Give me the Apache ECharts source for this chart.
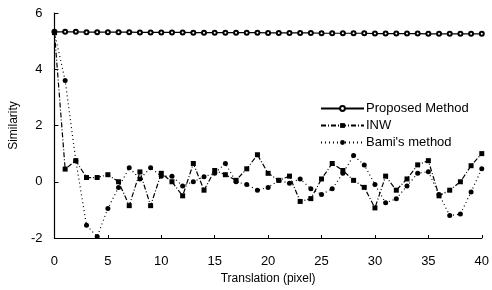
<!DOCTYPE html>
<html>
<head>
<meta charset="utf-8">
<script src="https://cdn.jsdelivr.net/npm/echarts@6/dist/echarts.min.js"></script>
<style>
  html, body { margin: 0; padding: 0; background: #fff; }
  #chart { width: 492px; height: 290px; }
</style>
</head>
<body>
<div id="chart"></div>
<script>
// translation in pixels, 0..40
const shifts = [0, 1, 2, 3, 4, 5, 6, 7, 8, 9, 10, 11, 12, 13, 14, 15, 16, 17, 18, 19, 20,
  21, 22, 23, 24, 25, 26, 27, 28, 29, 30, 31, 32, 33, 34, 35, 36, 37, 38, 39, 40]
const xTicks = [0, 5, 10, 15, 20, 25, 30, 35, 40]
const yTicks = [-2, 0, 2, 4, 6]

const proposed = [5.33, 5.33, 5.33, 5.32, 5.32, 5.32, 5.32, 5.32, 5.31, 5.31, 5.31,
  5.31, 5.31, 5.3, 5.3, 5.3, 5.3, 5.3, 5.3, 5.3, 5.29, 5.29, 5.29, 5.29, 5.29, 5.28,
  5.28, 5.28, 5.28, 5.28, 5.27, 5.27, 5.27, 5.27, 5.27, 5.26, 5.26, 5.26, 5.26, 5.26, 5.26]
const inw = [5.3, 0.45, 0.75, 0.15, 0.15, 0.25, 0.0, -0.85, 0.35, -0.85, 0.3,
  0.0, -0.5, 0.65, -0.3, 0.4, 0.25, 0.05, 0.46, 0.96, 0.3,
  0.05, 0.2, -0.7, -0.6, 0.1, 0.65, 0.4, 0.05, -0.2, -0.93,
  0.2, -0.3, 0.1, 0.6, 0.75, -0.5, -0.3, 0.0, 0.57, 1.0]
const bami = [5.3, 3.6, 0.75, -1.55, -1.95, -0.95, -0.2, 0.5, 0.1, 0.5, 0.2,
  0.2, -0.15, 0.0, 0.18, 0.3, 0.65, 0.0, -0.1, -0.3, -0.2,
  0.05, -0.05, 0.1, -0.25, -0.45, -0.25, 0.3, 0.93, 0.6, -0.1,
  -0.75, -0.6, -0.15, 0.3, 0.36, -0.45, -1.2, -1.15, -0.36, 0.46]

const pairs = (ys) => shifts.map((x, i) => [x, ys[i]])

const font = 'Liberation Sans, Arial, sans-serif'
const chart = echarts.init(document.getElementById('chart'), null, {renderer: 'canvas'})

const option = {
  backgroundColor: '#fff',
  animation: false,
  grid: {left: 48, right: 6, top: 13, bottom: 51, containLabel: false},
  legend: {
    orient: 'vertical',
    left: 315,
    top: 97,
    itemWidth: 43,
    itemHeight: 6,
    itemGap: 4,
    textStyle: {fontFamily: font, fontSize: 13, color: '#000', padding: [0, 0, 0, -3]},
    data: ['Proposed Method', 'INW', "Bami's method"]
  },
  xAxis: {
    type: 'value',
    min: xTicks[0],
    max: xTicks[xTicks.length - 1],
    interval: 5,
    name: 'Translation (pixel)',
    nameLocation: 'middle',
    nameGap: 35,
    nameTextStyle: {fontFamily: font, fontSize: 12, color: '#000'},
    axisLine: {onZero: false, lineStyle: {color: '#000', width: 1.2}},
    axisTick: {inside: true, length: 3, lineStyle: {color: '#000'}},
    axisLabel: {fontFamily: font, fontSize: 13, color: '#000', margin: 17},
    splitLine: {show: false}
  },
  yAxis: {
    type: 'value',
    min: yTicks[0],
    max: yTicks[yTicks.length - 1],
    interval: 2,
    name: 'Similarity',
    nameLocation: 'middle',
    nameGap: 31,
    nameTextStyle: {fontFamily: font, fontSize: 12, color: '#000'},
    axisLine: {show: true, onZero: false, lineStyle: {color: '#000', width: 1.2}},
    axisTick: {show: true, inside: true, length: 4, lineStyle: {color: '#000'}},
    axisLabel: {fontFamily: font, fontSize: 13, color: '#000', margin: 12},
    splitLine: {show: false}
  },
  series: [
    {
      name: 'Proposed Method',
      type: 'line',
      data: pairs(proposed),
      symbol: 'emptyCircle',
      symbolSize: 4,
      lineStyle: {color: '#000', width: 1.2},
      itemStyle: {color: '#000', borderColor: '#000', borderWidth: 1}
    },
    {
      name: 'INW',
      type: 'line',
      data: pairs(inw),
      symbol: 'rect',
      symbolSize: 5,
      lineStyle: {color: '#000', width: 1.2, type: [5, 2, 1, 2]},
      itemStyle: {color: '#000'}
    },
    {
      name: "Bami's method",
      type: 'line',
      data: pairs(bami),
      symbol: 'circle',
      symbolSize: 5,
      lineStyle: {color: '#000', width: 1.2, type: [1, 3]},
      itemStyle: {color: '#000'}
    }
  ]
}

option && chart.setOption(option)
</script>
</body>
</html>
